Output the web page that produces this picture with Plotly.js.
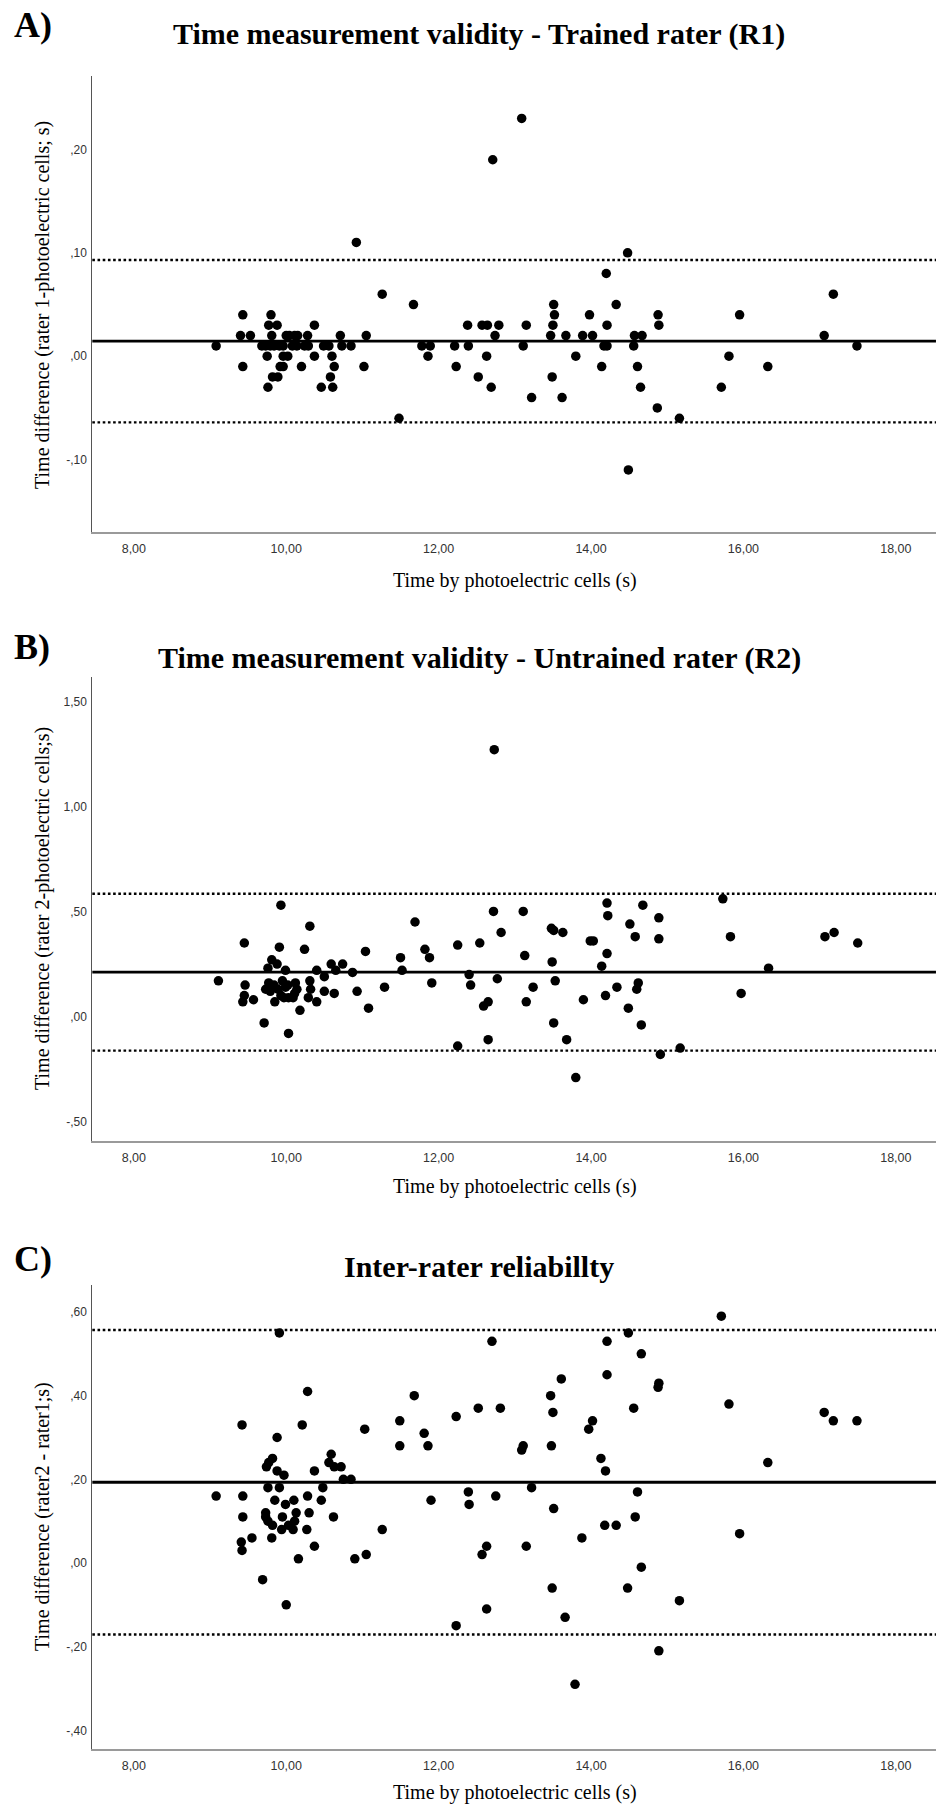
<!DOCTYPE html>
<html>
<head>
<meta charset="utf-8">
<script src="https://cdn.plot.ly/plotly-3.0.1.min.js"></script>
<style>html,body{margin:0;padding:0;background:#fff;}</style>
</head>
<body>
<div id="chart" style="width:942px;height:1806px;"></div>
<script>
// ---------- DATA ----------
// Panel A: rater 1 - photoelectric cells
const xA = [9.08,9.43,9.40,9.53,9.43,9.76,9.80,9.77,9.88,9.81,
  9.68,9.73,9.79,9.84,9.91,9.96,9.75,9.96,10.02,9.92,
  9.96,9.82,9.89,10.00,10.04,10.11,10.15,10.08,10.14,10.24,
  10.29,10.20,10.28,10.37,10.37,10.46,10.49,10.56,10.60,10.63,
  10.58,10.61,10.71,10.73,10.85,10.92,11.02,11.05,11.26,11.48,
  11.67,11.78,11.89,11.86,12.21,12.23,12.38,12.39,12.52,12.57,
  12.64,12.63,12.69,12.74,12.79,12.71,13.09,13.11,13.15,13.22,
  13.47,13.49,13.50,13.52,13.51,13.62,13.67,13.80,13.89,13.98,
  14.02,14.14,14.17,14.21,14.20,14.21,14.33,14.48,14.49,14.56,
  14.57,14.61,14.67,14.65,14.87,14.88,14.89,15.16,15.71,15.81,
  15.95,16.32,17.06,17.18,17.49];
const yA = [0.01,0.04,0.02,0.02,-0.01,-0.03,0.04,0.03,0.03,0.02,
  0.01,0.01,0.01,0.01,0.01,0.01,0.00,0.00,0.00,-0.01,
  -0.01,-0.02,-0.02,0.02,0.02,0.02,0.02,0.01,0.01,0.01,
  0.01,-0.01,0.02,0.03,0.00,-0.03,0.01,0.01,0.00,-0.01,
  -0.02,-0.03,0.02,0.01,0.01,0.11,-0.01,0.02,0.06,-0.06,
  0.05,0.01,0.01,0.00,0.01,-0.01,0.03,0.01,-0.02,0.03,
  0.03,0.00,-0.03,0.02,0.03,0.19,0.23,0.01,0.03,-0.04,
  0.02,-0.02,0.03,0.04,0.05,-0.04,0.02,0.00,0.02,0.04,
  0.02,-0.01,0.01,0.01,0.08,0.03,0.05,0.10,-0.11,0.01,
  0.02,-0.01,0.02,-0.03,-0.05,0.04,0.03,-0.06,-0.03,0.00,
  0.04,-0.01,0.02,0.06,0.01];
const meanA = 0.0145, upperA = 0.093, lowerA = -0.064;

// Panel B: rater 2 - photoelectric cells
const xB = [9.11,9.45,9.46,9.45,9.43,9.57,9.71,10.03,9.93,10.31,
  10.24,10.18,10.40,10.40,10.50,10.50,10.59,10.63,10.65,10.74,
  10.87,10.93,11.04,11.08,11.29,11.50,11.52,11.69,11.82,11.88,
  11.91,12.25,12.25,12.40,12.42,12.54,12.59,12.65,12.65,12.72,
  12.73,12.77,12.82,13.11,13.13,13.15,13.24,13.48,13.51,13.49,
  13.51,13.53,13.63,13.68,13.80,13.90,13.99,14.03,14.14,14.19,
  14.21,14.21,14.22,14.34,14.49,14.51,14.58,14.60,14.62,14.66,
  14.68,14.89,14.89,14.91,15.17,15.73,15.83,15.97,16.33,17.07,
  17.19,17.50,
  9.76,9.81,9.88,9.91,9.99,9.77,9.73,9.79,9.84,9.85,
  9.89,9.95,9.93,9.99,9.97,10.02,10.03,10.09,10.12,10.14,
  10.11,10.31,10.32,10.29];
const yB = [0.17,0.35,0.15,0.10,0.07,0.08,-0.03,-0.08,0.53,0.43,
  0.32,0.03,0.22,0.07,0.19,0.12,0.25,0.11,0.22,0.25,
  0.21,0.12,0.31,0.04,0.14,0.28,0.22,0.45,0.32,0.28,
  0.16,-0.14,0.34,0.20,0.15,0.35,0.05,0.07,-0.11,0.50,
  1.27,0.18,0.40,0.50,0.29,0.07,0.14,0.42,0.41,0.26,
  -0.03,0.17,0.40,-0.11,-0.29,0.08,0.36,0.36,0.24,0.10,
  0.30,0.54,0.48,0.14,0.04,0.44,0.38,0.13,0.16,-0.04,
  0.53,0.37,0.47,-0.18,-0.15,0.56,0.38,0.11,0.23,0.38,
  0.40,0.35,
  0.23,0.27,0.25,0.33,0.22,0.16,0.13,0.12,0.15,0.07,
  0.13,0.17,0.10,0.14,0.09,0.15,0.09,0.09,0.16,0.13,
  0.11,0.17,0.13,0.09];
const meanB = 0.211, upperB = 0.584, lowerB = -0.162;

// Panel C: rater 2 - rater 1
const xC = [9.82,9.77,9.74,9.88,9.97,10.59,10.56,10.63,10.72,10.75,
  10.85,10.37,9.76,9.91,10.48,9.08,9.43,10.28,9.85,9.99,
  10.10,10.46,9.43,9.73,9.73,9.76,9.82,9.95,10.13,10.11,
  10.03,9.94,10.09,10.30,10.27,10.62,9.41,9.42,9.55,9.81,
  10.37,10.16,10.90,9.69,10.00,9.88,9.42,9.91,10.21,10.28,
  11.03,11.05,11.26,11.49,11.49,11.68,11.81,11.86,11.90,12.23,
  12.23,12.39,12.40,12.52,12.57,12.63,12.63,12.70,12.75,12.81,
  13.09,13.11,13.15,13.22,13.47,13.50,13.48,13.51,13.49,13.61,
  13.66,13.79,13.88,13.97,14.02,14.13,14.19,14.18,14.21,14.21,
  14.33,14.48,14.49,14.56,14.58,14.61,14.66,14.66,14.88,14.89,
  14.89,15.16,15.71,15.81,15.95,16.32,17.06,17.18,17.49];
const yC = [0.25,0.24,0.23,0.22,0.21,0.26,0.24,0.23,0.23,0.20,
  0.20,0.22,0.18,0.18,0.18,0.16,0.16,0.16,0.15,0.14,
  0.15,0.15,0.11,0.12,0.11,0.10,0.09,0.11,0.12,0.10,
  0.09,0.08,0.08,0.12,0.08,0.11,0.05,0.03,0.06,0.06,
  0.04,0.01,0.01,-0.04,-0.10,0.30,0.33,0.55,0.33,0.41,
  0.32,0.02,0.08,0.34,0.28,0.40,0.31,0.28,0.15,-0.15,
  0.35,0.17,0.14,0.37,0.02,0.04,-0.11,0.53,0.16,0.37,
  0.27,0.28,0.04,0.18,0.40,0.36,0.28,0.13,-0.06,0.44,
  -0.13,-0.29,0.06,0.32,0.34,0.25,0.22,0.09,0.53,0.45,
  0.09,-0.06,0.55,0.37,0.11,0.17,-0.01,0.50,0.42,0.43,
  -0.21,-0.09,0.59,0.38,0.07,0.24,0.36,0.34,0.34];
const meanC = 0.193, upperC = 0.557, lowerC = -0.171;

// Tick labels
const xTickVals = [8,10,12,14,16,18];
const xTickText = ['8,00','10,00','12,00','14,00','16,00','18,00'];
const yTickValsA = [-0.10,0.00,0.10,0.20];
const yTickTextA = ['-,10',',00',',10',',20'];
const yTickValsB = [-0.50,0.00,0.50,1.00,1.50];
const yTickTextB = ['-,50',',00',',50','1,00','1,50'];
const yTickValsC = [-0.40,-0.20,0.00,0.20,0.40,0.60];
const yTickTextC = ['-,40','-,20',',00',',20',',40',',60'];

// Texts
const panelLabels = ['A)','B)','C)'];
const panelTitles = ['Time measurement validity - Trained rater (R1)',
  'Time measurement validity - Untrained rater (R2)',
  'Inter-rater reliabillty'];
const yTitles = ['Time difference (rater 1-photoelectric cells; s)',
  'Time difference (rater 2-photoelectric cells;s)',
  'Time difference (rater2 - rater1;s)'];
const xTitle = 'Time by photoelectric cells (s)';

// ---------- LAYOUT HELPERS ----------
const W = 942, H = 1806;
const SERIF = 'Liberation Serif, Times New Roman, serif';
const SANS = 'Liberation Sans, Arial, sans-serif';
const px = v => v / W;
const py = v => 1 - v / H;

// panel geometry in pixels (top, bottom of plot area)
const geo = [
  {top:76, bottom:532, label:25, title:34.5, xt:580, ycen:305},
  {top:677, bottom:1141, label:647, title:657.5, xt:1186, ycen:909},
  {top:1285, bottom:1749, label:1259, title:1266, xt:1792, ycen:1517}
];
const yRanges = [[-0.170, 0.271], [-0.592, 1.6156], [-0.4447, 0.6646]];
const xRange = [7.455, 18.527];
const xDomain = [0.098, 0.9936];

function xAxis(anchor) {
  return {
    domain: xDomain, range: xRange, anchor: anchor,
    tickmode: 'array', tickvals: xTickVals, ticktext: xTickText,
    showline: true, linecolor: '#9a9a9a', linewidth: 2,
    showgrid: false, zeroline: false,
    ticks: 'outside', ticklen: 4, tickcolor: 'rgba(0,0,0,0)',
    tickfont: {family: SANS, size: 12.5, color: '#333'},
    fixedrange: true
  };
}
function yAxis(anchor, i, vals, text) {
  return {
    domain: [py(geo[i].bottom), py(geo[i].top)], range: yRanges[i], anchor: anchor,
    tickmode: 'array', tickvals: vals, ticktext: text,
    showline: true, linecolor: '#555', linewidth: 1,
    showgrid: false, zeroline: false,
    ticks: 'outside', ticklen: 2, tickcolor: 'rgba(0,0,0,0)',
    tickfont: {family: SANS, size: 12, color: '#333'},
    fixedrange: true
  };
}

const marker = {size: 9.5, color: '#000', line: {width: 0}};
const traces = [
  {x: xA, y: yA, xaxis: 'x', yaxis: 'y', type: 'scatter', mode: 'markers', marker: marker, hoverinfo: 'skip'},
  {x: xB, y: yB, xaxis: 'x2', yaxis: 'y2', type: 'scatter', mode: 'markers', marker: marker, hoverinfo: 'skip'},
  {x: xC, y: yC, xaxis: 'x3', yaxis: 'y3', type: 'scatter', mode: 'markers', marker: marker, hoverinfo: 'skip'}
];

const lineSets = [
  ['x', 'y', meanA, upperA, lowerA],
  ['x2', 'y2', meanB, upperB, lowerB],
  ['x3', 'y3', meanC, upperC, lowerC]
];
const shapes = [];
lineSets.forEach(([xa, ya, m, u, l]) => {
  shapes.push({type: 'line', xref: xa + ' domain', yref: ya, x0: 0, x1: 1, y0: m, y1: m,
    line: {color: '#000', width: 2.8}, layer: 'below'});
  [u, l].forEach(v => shapes.push({type: 'line', xref: xa + ' domain', yref: ya, x0: 0, x1: 1, y0: v, y1: v,
    line: {color: '#000', width: 2.4, dash: '2.6px,2.6px'}, layer: 'below'}));
});

const annotations = [];
geo.forEach((g, i) => {
  annotations.push({text: '<b>' + panelLabels[i] + '</b>', xref: 'paper', yref: 'paper',
    x: px(12), y: py(g.label), xanchor: 'left', yanchor: 'middle', showarrow: false,
    font: {family: SERIF, size: 36, color: '#000'}});
  annotations.push({text: '<b>' + panelTitles[i] + '</b>', xref: 'paper', yref: 'paper',
    x: px(479), y: py(g.title), xanchor: 'center', yanchor: 'middle', showarrow: false,
    font: {family: SERIF, size: 30, color: '#000'}});
  annotations.push({text: yTitles[i], xref: 'paper', yref: 'paper',
    x: px(42), y: py(g.ycen), xanchor: 'center', yanchor: 'middle', textangle: -90, showarrow: false,
    font: {family: SERIF, size: 20, color: '#000'}});
  annotations.push({text: xTitle, xref: 'paper', yref: 'paper',
    x: px(515), y: py(g.xt), xanchor: 'center', yanchor: 'middle', showarrow: false,
    font: {family: SERIF, size: 20, color: '#000'}});
});

const layout = {
  width: W, height: H,
  margin: {l: 0, r: 0, t: 0, b: 0},
  paper_bgcolor: '#fff', plot_bgcolor: '#fff',
  showlegend: false,
  xaxis: xAxis('y'), yaxis: yAxis('x', 0, yTickValsA, yTickTextA),
  xaxis2: xAxis('y2'), yaxis2: yAxis('x2', 1, yTickValsB, yTickTextB),
  xaxis3: xAxis('y3'), yaxis3: yAxis('x3', 2, yTickValsC, yTickTextC),
  shapes: shapes,
  annotations: annotations
};

Plotly.newPlot('chart', traces, layout, {staticPlot: true, displayModeBar: false});
</script>
</body>
</html>
